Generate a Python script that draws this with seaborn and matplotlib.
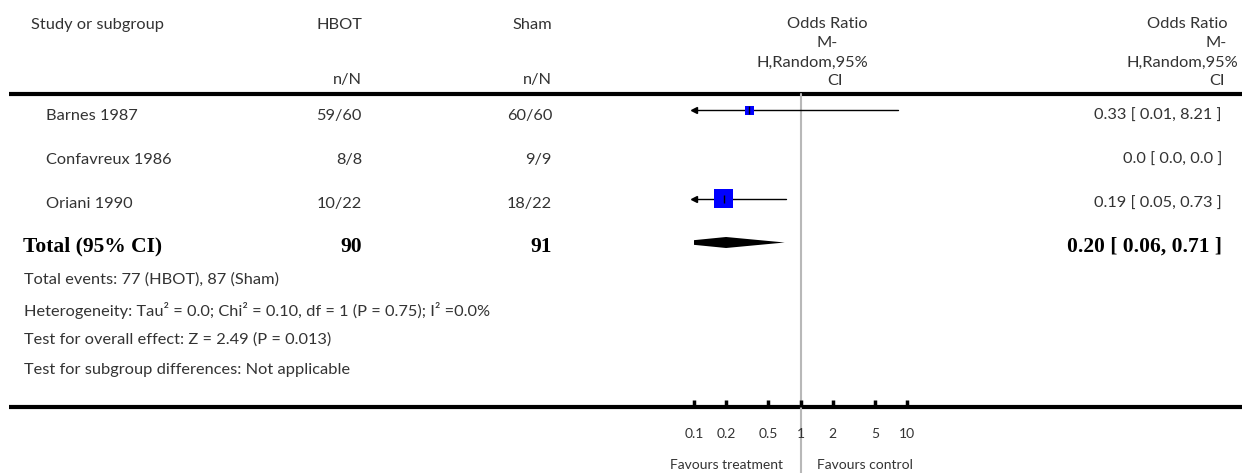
import matplotlib
matplotlib.use("Agg")
import matplotlib.pyplot as plt
import seaborn as sns
import pandas as pd
import numpy as np

# ---------------- data ----------------
studies = ["Barnes 1987", "Confavreux 1986", "Oriani 1990"]
hbot_nN = ["59/60", "8/8", "10/22"]
sham_nN = ["60/60", "9/9", "18/22"]
odds = [0.33, 0.0, 0.19]
ci_low = [0.01, 0.0, 0.05]
ci_high = [8.21, 0.0, 0.73]
weights = [18.0, 0.0, 82.0]
result_labels = ["0.33 [ 0.01, 8.21 ]", "0.0 [ 0.0, 0.0 ]", "0.19 [ 0.05, 0.73 ]"]

total_label = "Total (95% CI)"
total_hbot = "90"
total_sham = "91"
total_or = 0.20
total_low = 0.06
total_high = 0.71
total_result = "0.20 [ 0.06, 0.71 ]"

footer_lines = [
    "Total events: 77 (HBOT), 87 (Sham)",
    "Heterogeneity: Tau\u00b2 = 0.0; Chi\u00b2 = 0.10, df = 1 (P = 0.75); I\u00b2 =0.0%",
    "Test for overall effect: Z = 2.49 (P = 0.013)",
    "Test for subgroup differences: Not applicable",
]
tick_values = [0.1, 0.2, 0.5, 1, 2, 5, 10]
tick_labels = ["0.1", "0.2", "0.5", "1", "2", "5", "10"]
favours_left = "Favours treatment"
favours_right = "Favours control"

# ---------------- style ----------------
sns.set_theme(style="white")
plt.rcParams["font.family"] = ["Lato", "DejaVu Sans"]
TXT = "#333333"
FS = 11.8
BFS = 15.5
W, H = 1256, 473

fig = plt.figure(figsize=(W / 100, H / 100), dpi=100)
ov = fig.add_axes([0, 0, 1, 1])
ov.set_xlim(0, W)
ov.set_ylim(H, 0)
ov.axis("off")

# forest axes (x: log OR from 0.1 to 10; y: pixel rows)
top_y, bot_y = 94, 407
x0, x1 = 694, 907
af = fig.add_axes([x0 / W, (H - bot_y) / H, (x1 - x0) / W, (bot_y - top_y) / H])
af.set_xscale("log")
af.set_xlim(0.1, 10)
af.set_ylim(bot_y, top_y)
af.patch.set_alpha(0)
for s in af.spines.values():
    s.set_visible(False)
af.yaxis.set_visible(False)

# header
ov.text(31, 25, "Study or subgroup", fontsize=FS, color=TXT, va="center", ha="left")
ov.text(362, 25, "HBOT", fontsize=FS, color=TXT, va="center", ha="right")
ov.text(552, 25, "Sham", fontsize=FS, color=TXT, va="center", ha="right")
ov.text(362, 80, "n/N", fontsize=FS, color=TXT, va="center", ha="right")
ov.text(552, 80, "n/N", fontsize=FS, color=TXT, va="center", ha="right")
for txt, x, y in [("Odds Ratio", 868, 24), ("M-", 838, 43), ("H,Random,95%", 868, 63), ("CI", 843, 81)]:
    ov.text(x, y, txt, fontsize=FS, color=TXT, va="center", ha="right")
for txt, x, y in [("Odds Ratio", 1228, 24), ("M-", 1227, 43), ("H,Random,95%", 1238, 63), ("CI", 1225, 81)]:
    ov.text(x, y, txt, fontsize=FS, color=TXT, va="center", ha="right")

# rules
ov.plot([9, 1242], [top_y, top_y], color="black", lw=3, solid_capstyle="butt")
ov.plot([9, 1242], [bot_y, bot_y], color="black", lw=3, solid_capstyle="butt")
# line of no effect
af.axvline(1, ymin=-0.3, ymax=1, color="#b8b8b8", lw=1.5, clip_on=False, zorder=0)

# study rows
row0, dy = 110.5, 44
rows_y = [row0 + i * dy for i in range(len(studies))]
for i, name in enumerate(studies):
    ty = rows_y[i] + 5
    ov.text(46, ty, name, fontsize=FS, color=TXT, va="center", ha="left")
    ov.text(362, ty, hbot_nN[i], fontsize=FS, color=TXT, va="center", ha="right")
    ov.text(552, ty, sham_nN[i], fontsize=FS, color=TXT, va="center", ha="right")
    ov.text(1222, ty, result_labels[i], fontsize=FS, color=TXT, va="center", ha="right")
    if odds[i] > 0:
        lo = max(ci_low[i], 0.1)
        hi = min(ci_high[i], 10)
        af.plot([lo, hi], [rows_y[i], rows_y[i]], color="black", lw=1, zorder=2)
        if ci_low[i] < 0.1:
            af.plot([0.1], [rows_y[i]], marker="<", ms=4, color="black", clip_on=False, zorder=3)

df = pd.DataFrame({"or": odds, "y": rows_y, "w": weights})
df = df[df["or"] > 0]
sns.scatterplot(data=df, x="or", y="y", size="w", sizes=(42, 190), marker="s",
                color="#0000ff", linewidth=0, legend=False, ax=af, zorder=3)
af.scatter(df["or"], df["y"], marker="|", s=30, color="black", linewidths=1, zorder=4)
af.set_xlabel("")
af.set_ylabel("")
af.set_xlim(0.1, 10)
af.set_ylim(bot_y, top_y)
af.set_xticks(tick_values)
af.set_xticklabels(tick_labels)
af.minorticks_off()
af.tick_params(axis="x", direction="in", length=5, width=2.5, color="black",
               pad=15, labelsize=10, labelcolor=TXT, bottom=True)

# total row
ty_tot = row0 + 3 * dy
serif = ["Liberation Serif", "DejaVu Serif"]
for txt, x, ha in [(total_label, 23, "left"), (total_hbot, 362, "right"),
                   (total_sham, 552, "right"), (total_result, 1222, "right")]:
    ov.text(x, ty_tot + 4, txt, fontsize=BFS, fontweight="bold", family=serif,
            color="black", va="center", ha=ha)
half = 5.5
af.fill([total_low, total_or, total_high, total_or], [ty_tot, ty_tot - half, ty_tot, ty_tot + half],
        color="black", lw=0, zorder=3)

# footer
for j, line in enumerate(footer_lines):
    ov.text(24, 280 + 30 * j, line, fontsize=FS, color=TXT, va="center", ha="left")

ov.text(783, 465, favours_left, fontsize=10, color=TXT, va="center", ha="right")
ov.text(817, 465, favours_right, fontsize=10, color=TXT, va="center", ha="left")

fig.savefig("out.png", dpi=100)
